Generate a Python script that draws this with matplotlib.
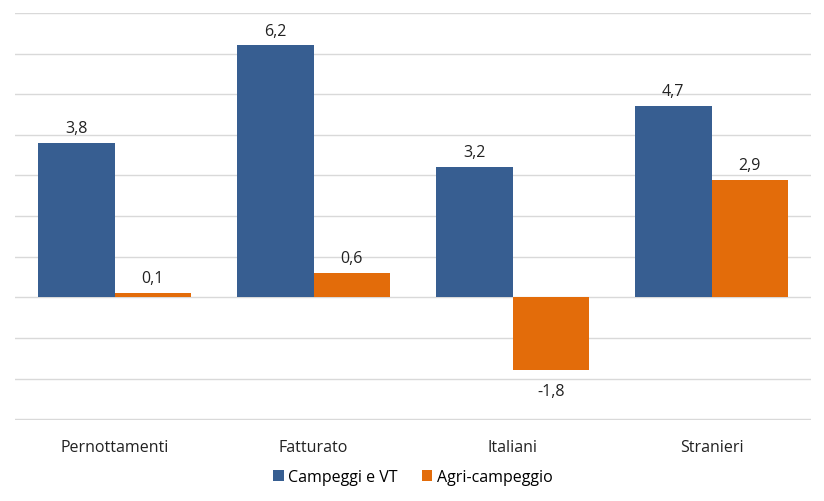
import numpy as np
import matplotlib.pyplot as plt

# Data
categories = ["Pernottamenti", "Fatturato", "Italiani", "Stranieri"]
campeggi = [3.8, 6.2, 3.2, 4.7]
agri = [0.1, 0.6, -1.8, 2.9]
seriesNames = ["Campeggi e VT", "Agri-campeggio"]

blue = "#375E91"
orange = "#E36C0A"

plt.rcParams["font.family"] = ["Open Sans", "DejaVu Sans"]

fig = plt.figure(figsize=(8.24, 5.02), dpi=100)
ax = fig.add_axes([15/824, 1-421/502, 796/824, 407/502])

x = np.arange(len(categories))
w = 0.385

b1 = ax.bar(x - w/2, campeggi, w, color=blue, label=seriesNames[0], zorder=3)
b2 = ax.bar(x + w/2, agri, w, color=orange, label=seriesNames[1], zorder=3)

# Value labels (decimal comma)
for bars in (b1, b2):
    for rect in bars:
        v = rect.get_height()
        txt = "{:.1f}".format(v).replace(".", ",")
        xc = rect.get_x() + rect.get_width()/2
        if v >= 0:
            ax.annotate(txt, (xc, v), xytext=(0, 5), textcoords="offset points",
                        ha="center", va="bottom", fontsize=11.5, color="#222222")
        else:
            ax.annotate(txt, (xc, v), xytext=(0, -9), textcoords="offset points",
                        ha="center", va="top", fontsize=11.5, color="#222222")

ax.set_xlim(-0.5, len(categories) - 0.5)
ax.set_ylim(-3.02, 7)
ax.set_yticks(np.arange(-3, 8, 1))
ax.yaxis.grid(True, color="#D9D9D9", linewidth=1.0, zorder=0)
ax.tick_params(axis="y", left=False, labelleft=False)
ax.tick_params(axis="x", bottom=False, pad=10)
ax.set_xticks(x)
ax.set_xticklabels(categories, fontsize=11.5, color="#222222")
for s in ax.spines.values():
    s.set_visible(False)

ax.legend(loc="center", bbox_to_anchor=(0.5, -(478-421)/407), ncol=2,
          frameon=False, fontsize=11.5, handlelength=0.65, handleheight=0.65,
          columnspacing=1.5, handletextpad=0.3)

fig.savefig("out.png", dpi=100)
